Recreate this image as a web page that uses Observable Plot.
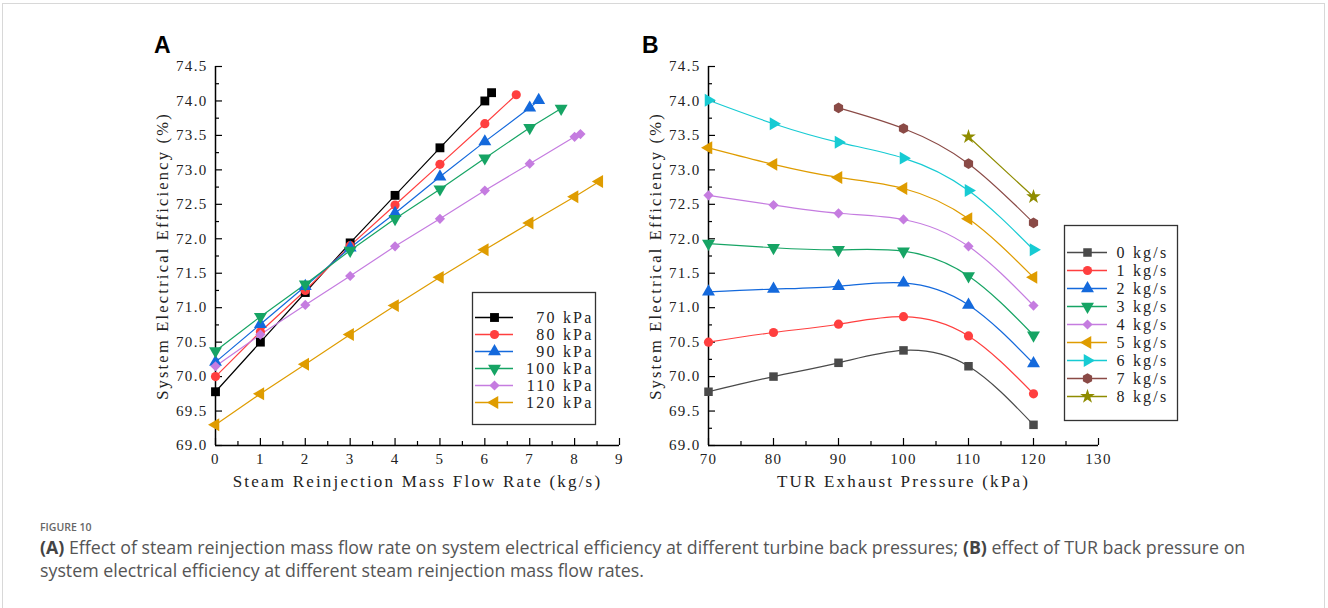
<!DOCTYPE html>
<html><head><meta charset="utf-8">
<script src="https://cdn.jsdelivr.net/npm/d3@7"></script>
<script src="https://cdn.jsdelivr.net/npm/@observablehq/plot@0.6"></script>
<style>
html,body{margin:0;padding:0;background:#fff;}
#page{position:relative;width:1328px;height:608px;overflow:hidden;background:#fff;}
.frame{position:absolute;left:2px;top:3px;width:1323px;height:640px;border:1px solid #d8d8d8;box-sizing:border-box;}
.abs{position:absolute;}
.plabel{position:absolute;font-family:"Liberation Sans",Arial,sans-serif;font-weight:bold;font-size:23px;color:#000;line-height:1;}
#fig{position:absolute;left:40px;top:520px;font-family:"Open Sans",sans-serif;font-size:10.5px;font-weight:600;color:#666;}
#cap{position:absolute;left:40px;top:536px;white-space:nowrap;font-family:"Open Sans",sans-serif;font-size:17.8px;line-height:23px;color:#555;}
#cap b{color:#444;}
svg g[aria-label="text"]{letter-spacing:2.2px;}
svg g[aria-label="x label"]{letter-spacing:2.6px;}
svg g[aria-label="y label"]{letter-spacing:3.1px;}
</style></head>
<body><div id="page">
<div class="frame"></div>
<div class="plabel" style="left:154px;top:34px">A</div>
<div class="plabel" style="left:642px;top:34px">B</div>
<div id="plotA" class="abs" style="left:0;top:0"></div>
<div id="plotB" class="abs" style="left:640px;top:0"></div>
<div id="legA" class="abs" style="left:472px;top:292px"></div>
<div id="legB" class="abs" style="left:1064px;top:225px"></div>
<div id="fig">FIGURE 10</div>
<div id="cap"><b>(A)</b> Effect of steam reinjection mass flow rate on system electrical efficiency at different turbine back pressures; <b>(B)</b> effect of TUR back pressure on<br>system electrical efficiency at different steam reinjection mass flow rates.</div>
</div>
<script>
// ---------- Panel A data: efficiency vs reinjection flow, per back pressure ----------
const pressureSeries = ["70 kPa", "80 kPa", "90 kPa", "100 kPa", "110 kPa", "120 kPa"];
const flow70 = [0, 1, 2, 3, 4, 5, 6, 6.15];
const eff70  = [69.78, 70.50, 71.22, 71.94, 72.63, 73.32, 74.00, 74.12];
const flow80 = [0, 1, 2, 3, 4, 5, 6, 6.7];
const eff80  = [70.00, 70.65, 71.25, 71.90, 72.49, 73.08, 73.67, 74.09];
const flow90 = [0, 1, 2, 3, 4, 5, 6, 7, 7.2];
const eff90  = [70.21, 70.76, 71.31, 71.87, 72.37, 72.90, 73.41, 73.90, 74.01];
const flow100 = [0, 1, 2, 3, 4, 5, 6, 7, 7.7];
const eff100  = [70.37, 70.87, 71.34, 71.83, 72.29, 72.72, 73.17, 73.61, 73.89];
const flow110 = [0, 1, 2, 3, 4, 5, 6, 7, 8, 8.13];
const eff110  = [70.15, 70.61, 71.04, 71.46, 71.89, 72.29, 72.70, 73.09, 73.48, 73.52];
const flow120 = [0, 1, 2, 3, 4, 5, 6, 7, 8, 8.55];
const eff120  = [69.30, 69.75, 70.18, 70.61, 71.03, 71.44, 71.84, 72.23, 72.61, 72.83];

// ---------- Panel B data: efficiency vs exhaust pressure, per flow rate ----------
const flowSeries = ["0 kg/s", "1 kg/s", "2 kg/s", "3 kg/s", "4 kg/s", "5 kg/s", "6 kg/s", "7 kg/s", "8 kg/s"];
const pressures = [70, 80, 90, 100, 110, 120];
const pressures7 = [90, 100, 110, 120];
const pressures8 = [110, 120];
const effB0 = [69.78, 70.00, 70.20, 70.38, 70.15, 69.30];
const effB1 = [70.50, 70.64, 70.76, 70.87, 70.59, 69.75];
const effB2 = [71.23, 71.27, 71.31, 71.36, 71.04, 70.19];
const effB3 = [71.93, 71.87, 71.84, 71.82, 71.46, 70.60];
const effB4 = [72.63, 72.49, 72.37, 72.28, 71.89, 71.03];
const effB5 = [73.32, 73.08, 72.89, 72.73, 72.29, 71.44];
const effB6 = [74.01, 73.67, 73.40, 73.17, 72.70, 71.84];
const effB7 = [73.90, 73.60, 73.09, 72.23];
const effB8 = [73.48, 72.61];

// ---------- Axes ----------
const yDomain = [69, 74.5];
const yTicks = [69, 69.5, 70, 70.5, 71, 71.5, 72, 72.5, 73, 73.5, 74, 74.5];
const yMinor = [69.25, 69.75, 70.25, 70.75, 71.25, 71.75, 72.25, 72.75, 73.25, 73.75, 74.25];
const xDomainA = [0, 9];
const xTicksA = [0, 1, 2, 3, 4, 5, 6, 7, 8, 9];
const xMinorA = [0.5, 1.5, 2.5, 3.5, 4.5, 5.5, 6.5, 7.5, 8.5];
const xDomainB = [70, 130];
const xTicksB = [70, 80, 90, 100, 110, 120, 130];
const xMinorB = [75, 85, 95, 105, 115, 125];
const yLabel = "System Electrical Efficiency (%)";
const xLabelA = "Steam Reinjection Mass Flow Rate (kg/s)";
const xLabelB = "TUR Exhaust Pressure (kPa)";

// ---------- symbols ----------
const sqrt3 = Math.sqrt(3);
const triDown = {draw(c, s) { const y = -Math.sqrt(s / (sqrt3 * 3)); c.moveTo(0, -y * 2); c.lineTo(-sqrt3 * y, y); c.lineTo(sqrt3 * y, y); c.closePath(); }};
const triLeft = {draw(c, s) { const y = -Math.sqrt(s / (sqrt3 * 3)); c.moveTo(y * 2, 0); c.lineTo(-y, -sqrt3 * y); c.lineTo(-y, sqrt3 * y); c.closePath(); }};
const triRight = {draw(c, s) { const y = -Math.sqrt(s / (sqrt3 * 3)); c.moveTo(-y * 2, 0); c.lineTo(y, -sqrt3 * y); c.lineTo(y, sqrt3 * y); c.closePath(); }};

const colorsA = ["#000000", "#ff3f3f", "#1469dc", "#16a464", "#c57ce0", "#df9c00"];
const symbolsA = ["square", "circle", "triangle", triDown, "diamond2", triLeft];
const radiiA = [5, 4.6, 4.8, 4.8, 4.6, 4.8];
const colorsB = ["#4a4a4a", "#ff3f3f", "#1469dc", "#16a464", "#c57ce0", "#df9c00", "#17cbd3", "#8a4a46", "#8f8c00"];
const symbolsB = ["square", "circle", "triangle", triDown, "diamond2", triLeft, triRight, "hexagon", "star"];
const radiiB = [4.8, 4.6, 4.8, 4.8, 4.6, 4.8, 4.8, 4.6, 4.6];

const seriesA = [[flow70, eff70], [flow80, eff80], [flow90, eff90], [flow100, eff100], [flow110, eff110], [flow120, eff120]]
  .map(([xs, ys], i) => xs.map((x, j) => ({series: pressureSeries[i], x, y: ys[j]})));
const seriesB = [[pressures, effB0], [pressures, effB1], [pressures, effB2], [pressures, effB3], [pressures, effB4],
  [pressures, effB5], [pressures, effB6], [pressures7, effB7], [pressures8, effB8]]
  .map(([xs, ys], i) => xs.map((x, j) => ({series: flowSeries[i], x, y: ys[j]})));

const font = "'Liberation Serif', 'DejaVu Serif', serif";
const svgStyle = {fontFamily: font, background: "transparent", overflow: "visible", letterSpacing: "1.3px"};

function axesMarks(xDomain, xTicks, xMinor, xLabel) {
  return [
    Plot.axisY({ticks: yTicks, tickSize: 7, dx: 7, text: null, label: null, strokeWidth: 1.2}),
    Plot.axisY({ticks: yMinor, tickSize: 4, dx: 4, text: null, label: null, strokeWidth: 1.2}),
    Plot.axisY({ticks: yTicks, tickSize: 0, tickPadding: 8, tickFormat: d => d.toFixed(1), label: null, fontSize: 15, fill: "#222"}),
    Plot.axisX({ticks: xTicks, tickSize: 7, dy: -7, text: null, label: null, strokeWidth: 1.2}),
    Plot.axisX({ticks: xMinor, tickSize: 4, dy: -4, text: null, label: null, strokeWidth: 1.2}),
    Plot.axisX({ticks: xTicks, tickSize: 0, tickPadding: 8, tickFormat: d => String(d), label: null, fontSize: 15, fill: "#222"}),
    Plot.ruleX([xDomain[0]], {stroke: "#000", strokeWidth: 1.5}),
    Plot.ruleY([yDomain[0]], {stroke: "#000", strokeWidth: 1.5}),
    Plot.text([yLabel], {ariaLabel: "y label", text: d => d, frameAnchor: "left", textAnchor: "middle", dx: -53, rotate: -90, fontSize: 16.5, fill: "#222"}),
    Plot.text([xLabel], {ariaLabel: "x label", text: d => d, frameAnchor: "bottom", textAnchor: "middle", dy: 41, fontSize: 17, fill: "#222"})
  ];
}

const plotA = Plot.plot({
  width: 640, height: 510,
  marginLeft: 215, marginRight: 21, marginTop: 66, marginBottom: 65,
  style: svgStyle,
  x: {domain: xDomainA},
  y: {domain: yDomain},
  marks: [
    ...axesMarks(xDomainA, xTicksA, xMinorA, xLabelA),
    ...seriesA.map((rows, i) => Plot.line(rows, {x: "x", y: "y", stroke: colorsA[i], strokeWidth: 1.2})),
    ...seriesA.map((rows, i) => Plot.dot(rows, {x: "x", y: "y", fill: colorsA[i], symbol: symbolsA[i], r: radiiA[i]}))
  ]
});
document.getElementById("plotA").appendChild(plotA);

const plotB = Plot.plot({
  width: 640, height: 510,
  marginLeft: 68, marginRight: 182, marginTop: 66, marginBottom: 65,
  style: svgStyle,
  x: {domain: xDomainB},
  y: {domain: yDomain},
  marks: [
    ...axesMarks(xDomainB, xTicksB, xMinorB, xLabelB),
    ...seriesB.map((rows, i) => Plot.line(rows, {x: "x", y: "y", stroke: colorsB[i], strokeWidth: 1.2, curve: "natural"})),
    ...seriesB.map((rows, i) => Plot.dot(rows, {x: "x", y: "y", fill: colorsB[i], symbol: symbolsB[i], r: radiiB[i]}))
  ]
});
document.getElementById("plotB").appendChild(plotB);

function legend(names, colors, symbols, radii, w, h, lineEnd, dotX, textOpts) {
  return Plot.plot({
    width: w, height: h, margin: 0,
    style: {fontFamily: font, background: "#fff", overflow: "visible"},
    y: {type: "point", domain: names, range: [14, h - 11], axis: null},
    marks: [
      Plot.frame({stroke: "#333", strokeWidth: 1.3}),
      ...names.map((n, i) => Plot.ruleY([n], {y: d => d, stroke: colors[i], strokeWidth: 1.4, insetLeft: 3, insetRight: w - lineEnd})),
      ...names.map((n, i) => Plot.dot([n], {y: d => d, frameAnchor: "left", dx: dotX, fill: colors[i], symbol: symbols[i], r: radii[i]})),
      Plot.text(names, {y: d => d, text: d => d, fontSize: 16, fill: "#222", ...textOpts})
    ]
  });
}
document.getElementById("legA").appendChild(
  legend(pressureSeries, colorsA, symbolsA, radiiA, 123, 132, 41, 22, {frameAnchor: "right", dx: -2, textAnchor: "end"}));
document.getElementById("legB").appendChild(
  legend(flowSeries, colorsB, symbolsB, radiiB, 113, 195, 43, 23, {frameAnchor: "left", dx: 52, textAnchor: "start"}));
</script>
</body></html>
